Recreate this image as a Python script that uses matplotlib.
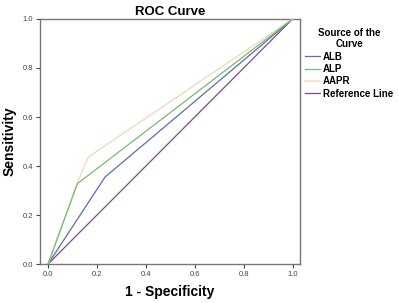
import matplotlib.pyplot as plt

## ROC curve data
alb_x = [0.0, 0.233, 1.0]
alb_y = [0.0, 0.355, 1.0]
alp_x = [0.0, 0.12, 1.0]
alp_y = [0.0, 0.328, 1.0]
aapr_x = [0.0, 0.12, 0.165, 1.0]
aapr_y = [0.0, 0.333, 0.437, 1.0]
ref_x = [0.0, 1.0]
ref_y = [0.0, 1.0]
ticks = [0.0, 0.2, 0.4, 0.6, 0.8, 1.0]

plt.rcParams['font.family'] = ['Liberation Sans', 'DejaVu Sans']

fig = plt.figure(figsize=(3.99, 3.03), dpi=100)
ax = fig.add_axes([0.1003, 0.1287, 0.6513, 0.8086])

ax.plot(ref_x, ref_y, color='#7b4a8c', lw=0.9, label='Reference Line', zorder=1)
ax.plot(alb_x, alb_y, color='#5b6ea6', lw=0.9, label='ALB', zorder=2)
ax.plot(aapr_x, aapr_y, color='#e9e2c4', lw=1.1, label='AAPR', zorder=3)
ax.plot(alp_x, alp_y, color='#72bd72', lw=0.9, label='ALP', zorder=4)

ax.set_xlim(-0.033, 1.03)
ax.set_ylim(0, 1)
ax.set_xticks(ticks)
ax.set_yticks(ticks)
ax.set_xticklabels(['%.1f' % t for t in ticks])
ax.set_yticklabels(['%.1f' % t for t in ticks])
ax.tick_params(labelsize=5.5, colors='#444444', length=3, width=0.8, pad=2)
for s in ax.spines.values():
    s.set_color('#777777')
    s.set_linewidth(1.0)

ax.set_title('ROC Curve', fontsize=9.5, fontweight='bold', pad=3)
ax.set_xlabel('1 - Specificity', fontsize=10, fontweight='bold', labelpad=5)
ax.set_ylabel('Sensitivity', fontsize=10, fontweight='bold', labelpad=4)

# legend order as in the picture
h, l = ax.get_legend_handles_labels()
order = ['ALB', 'ALP', 'AAPR', 'Reference Line']
hs = [h[l.index(o)] for o in order]
leg = ax.legend(hs, order, loc='upper left', bbox_to_anchor=(1.0, 0.985),
                frameon=False, fontsize=7, title='Source of the\nCurve',
                title_fontsize=7, handlelength=1.6, handletextpad=0.3,
                labelspacing=0.25, borderaxespad=0.1, alignment='center')
leg.get_title().set_fontweight('bold')
leg.get_title().set_multialignment('center')
for t in leg.get_texts():
    t.set_fontweight('bold')

fig.savefig('out.png', dpi=100)
